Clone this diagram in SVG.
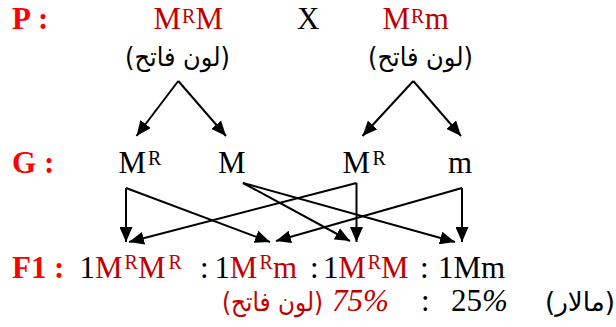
<svg xmlns="http://www.w3.org/2000/svg" width="616" height="327" viewBox="0 0 616 327">
<defs>
<style>
.t{font-family:"Liberation Serif","Times New Roman",serif;font-size:31px;fill:#000}
.b{font-weight:bold;fill:#ff0000}
.dr{fill:#c00000}
.sup{font-size:20px}
.ar{font-family:"DejaVu Sans",sans-serif;font-size:26px}
.it{font-style:italic}
.ln{stroke:#000;stroke-width:2;fill:none}
</style>
<marker id="ah" markerUnits="userSpaceOnUse" markerWidth="16" markerHeight="13" refX="15" refY="6.5" orient="auto">
<path d="M0,0 L15,6.5 L0,13 z" fill="#000"/>
</marker>
</defs>
<rect width="616" height="327" fill="#fff"/>

<g id="label-P"><text class="t b" x="12" y="29" font-size="29">P<tspan x="38">:</tspan></text></g>
<g id="parent1">
<text class="t dr" y="29"><tspan x="153.5">M</tspan><tspan class="sup" x="182" y="22.5">R</tspan><tspan x="195.5" y="29">M</tspan></text>
<text class="ar" x="125" y="66" textLength="105" lengthAdjust="spacingAndGlyphs">(لون فاتح)</text>
</g>
<g id="cross"><text class="t" x="297" y="29" font-size="27">X</text></g>
<g id="parent2">
<text class="t dr" y="29"><tspan x="382.5">M</tspan><tspan class="sup" x="411" y="22.5">R</tspan><tspan x="424.8" y="29">m</tspan></text>
<text class="ar" x="368" y="66" textLength="105" lengthAdjust="spacingAndGlyphs">(لون فاتح)</text>
</g>

<g id="label-G"><text class="t b" x="12" y="173" font-size="29">G<tspan x="44">:</tspan></text></g>
<g id="g1"><text class="t" y="173"><tspan x="118.5">M</tspan><tspan class="sup" x="148" y="164.5">R</tspan></text></g>
<g id="g2"><text class="t" x="218" y="173">M</text></g>
<g id="g3"><text class="t" y="173"><tspan x="342.5">M</tspan><tspan class="sup" x="372.5" y="164.5">R</tspan></text></g>
<g id="g4"><text class="t" x="448" y="173">m</text></g>

<g id="connectors">
<line class="ln" x1="178.3" y1="81" x2="136.5" y2="136" marker-end="url(#ah)"/>
<line class="ln" x1="178.3" y1="81" x2="226" y2="136" marker-end="url(#ah)"/>
<line class="ln" x1="413.3" y1="81" x2="362.5" y2="136" marker-end="url(#ah)"/>
<line class="ln" x1="413.3" y1="81" x2="461" y2="136" marker-end="url(#ah)"/>
<line class="ln" x1="126" y1="188" x2="126" y2="242" marker-end="url(#ah)"/>
<line class="ln" x1="126" y1="188" x2="270" y2="242" marker-end="url(#ah)"/>
<line class="ln" x1="243" y1="183" x2="350" y2="241" marker-end="url(#ah)"/>
<line class="ln" x1="243" y1="183" x2="455" y2="242" marker-end="url(#ah)"/>
<line class="ln" x1="356.5" y1="183" x2="356.5" y2="242" marker-end="url(#ah)"/>
<line class="ln" x1="356.5" y1="183" x2="129" y2="242" marker-end="url(#ah)"/>
<line class="ln" x1="462" y1="188" x2="462" y2="242" marker-end="url(#ah)"/>
<line class="ln" x1="462" y1="188" x2="276" y2="241" marker-end="url(#ah)"/>
</g>

<g id="label-F1"><text class="t b" x="12" y="278" font-size="28">F1<tspan x="54">:</tspan></text></g>
<g id="f1">
<text class="t" y="278" font-size="30"><tspan x="79.5">1</tspan><tspan class="dr" x="95">M</tspan><tspan class="dr sup" x="124.5" y="268.5">R</tspan><tspan class="dr" x="137.9" y="278">M</tspan><tspan class="dr sup" x="168.5" y="268.5">R</tspan><tspan x="200" y="278">:</tspan><tspan x="214.5">1</tspan><tspan class="dr" x="229.8">M</tspan><tspan class="dr sup" x="259.5" y="268.5">R</tspan><tspan class="dr" x="272.9" y="278">m</tspan><tspan x="310">:</tspan><tspan x="323">1</tspan><tspan class="dr" x="338.3">M</tspan><tspan class="dr sup" x="367.7" y="268.5">R</tspan><tspan class="dr" x="381.1" y="278">M</tspan><tspan x="420">:</tspan><tspan x="438">1Mm</tspan></text>
</g>
<g id="ratio">
<text class="ar dr" x="222" y="311" textLength="101" lengthAdjust="spacingAndGlyphs">(لون فاتح)</text>
<text class="t dr it" x="332" y="311" font-size="29">75%</text>
<text class="t" x="421" y="311" font-size="29">:</text>
<text class="t" x="451" y="311" font-size="29">25<tspan class="it">%</tspan></text>
<text class="ar" x="545" y="311" textLength="70" lengthAdjust="spacingAndGlyphs">(مالار)</text>
</g>
</svg>
